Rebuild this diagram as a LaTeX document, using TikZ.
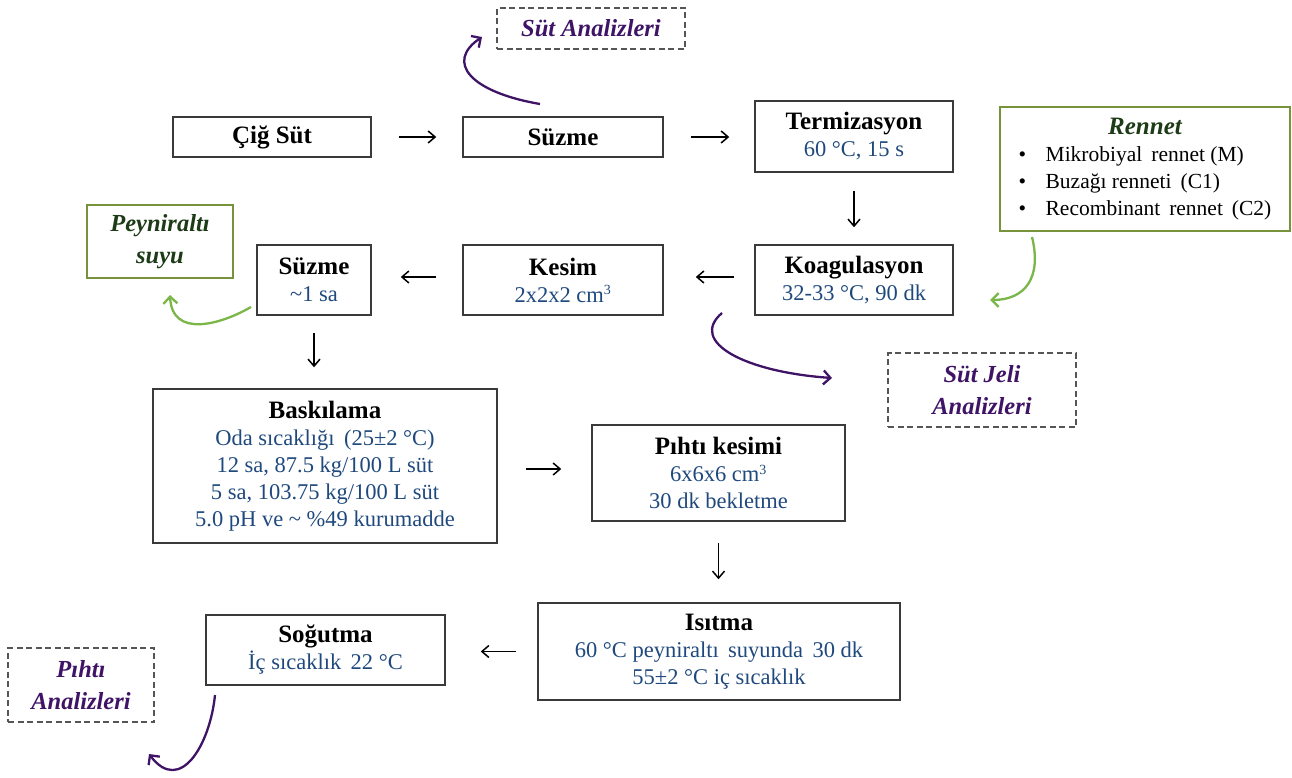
\documentclass[tikz,border=0pt]{standalone}
\usepackage{fontspec}
\setmainfont{Liberation Serif}
\usetikzlibrary{arrows.meta}
\definecolor{tblue}{HTML}{1F497D}
\definecolor{tpurp}{HTML}{3F1466}
\definecolor{gborder}{HTML}{77933C}
\definecolor{garrow}{HTML}{7AB648}
\definecolor{tgreen}{HTML}{1D3B16}
\definecolor{bgray}{HTML}{3A3A3A}
\definecolor{dgray}{HTML}{555555}
\newcommand\ttl[1]{{\fontsize{25}{28}\selectfont\bfseries #1}}
\newcommand\dtl{\color{tblue}}
\begin{document}
\begin{tikzpicture}[x=1pt,y=-1pt,
  box/.style={draw=bgray,line width=1.5pt,rectangle,inner sep=0pt,align=center,
    font=\fontsize{22.5}{27}\selectfont},
  gbox/.style={draw=gborder,line width=1.4pt,rectangle,inner sep=0pt,align=center,
    font=\fontsize{24.5}{32}\selectfont\bfseries\itshape,text=tgreen},
  dbox/.style={draw=dgray,line width=1.4pt,dash pattern=on 6pt off 3.5pt,rectangle,inner sep=0pt,
    align=center,font=\fontsize{24.5}{32}\selectfont\bfseries\itshape,text=tpurp},
  arr/.style={line width=1.5pt,-{Straight Barb[length=7pt,width=12pt]}},
  parr/.style={draw=tpurp,line width=2.3pt,-{Straight Barb[length=7pt,width=14pt]}},
  garr/.style={draw=garrow,line width=2.3pt,-{Straight Barb[length=7pt,width=14pt]}}
]
\useasboundingbox (0,0) rectangle (1292,778);

% main process boxes
\node[box,minimum width=198pt,minimum height=40pt] (cig) at (272,137) {\ttl{Çiğ Süt}};
\node[box,minimum width=200pt,minimum height=40pt] (suz1) at (563,137) {\ttl{Süzme}};
\node[box,minimum width=198pt,minimum height=71pt] (term) at (854,136.5) {\ttl{Termizasyon}\\ {\dtl 60 °C, 15 s}};
\node[box,minimum width=198pt,minimum height=70pt] (koag) at (854,280) {\ttl{Koagulasyon}\\ {\dtl 32-33 °C, 90 dk}};
\node[box,minimum width=200pt,minimum height=70pt] (kesim) at (563,280) {\ttl{Kesim}\\ {\dtl 2x2x2 cm\textsuperscript{\fontsize{14}{14}\selectfont 3}}};
\node[box,minimum width=114pt,minimum height=70pt] (suz2) at (314,280) {\ttl{Süzme}\\ {\dtl \textasciitilde1 sa}};
\node[box,minimum width=344pt,minimum height=154pt] (bask) at (325,466) {\ttl{Baskılama}\\ {\dtl Oda sıcaklığı \,(25±2 °C)}\\ {\dtl 12 sa, 87.5 kg/100 L süt}\\ {\dtl 5 sa, 103.75 kg/100 L süt}\\ {\dtl 5.0 pH ve \textasciitilde{} \%49 kurumadde}};
\node[box,minimum width=253pt,minimum height=96pt] (pihti) at (718.5,473) {\ttl{Pıhtı kesimi}\\ {\dtl 6x6x6 cm\textsuperscript{\fontsize{14}{14}\selectfont 3}}\\ {\dtl 30 dk bekletme}};
\node[box,minimum width=362pt,minimum height=97pt] (isit) at (719,651.5) {\ttl{Isıtma}\\ {\dtl 60 °C peyniraltı \,suyunda \,30 dk}\\ {\dtl 55±2 °C iç sıcaklık}};
\node[box,minimum width=239pt,minimum height=70pt] (sog) at (325.5,650) {\ttl{Soğutma}\\ {\dtl İç sıcaklık \,22 °C}};

% side boxes
\node[draw=gborder,line width=1.4pt,rectangle,inner sep=0pt,minimum width=290pt,minimum height=124pt,
  font=\fontsize{21.5}{28}\selectfont] (rennet) at (1145,169) {%
  \begin{tabular}{@{}p{27pt}@{}l@{}}
  \multicolumn{2}{@{}c@{}}{\fontsize{25}{28}\selectfont\color{tgreen}\bfseries\itshape Rennet\hspace{-10pt}}\\[-1pt]
  \textbullet & Mikrobiyal \,rennet (M)\\[-1pt]
  \textbullet & Buzağı renneti \,(C1)\\[-1pt]
  \textbullet & Recombinant \,rennet \,(C2)
  \end{tabular}\hspace{10pt}};
\node[gbox,minimum width=146pt,minimum height=73pt] (peyn) at (160,241.5) {Peyniraltı\\suyu};
\node[dbox,minimum width=188pt,minimum height=41pt] (sutA) at (591,28.5) {Süt Analizleri};
\node[dbox,minimum width=188pt,minimum height=74pt] (jeli) at (982,390) {Süt Jeli\\Analizleri};
\node[dbox,minimum width=146pt,minimum height=74pt] (pihtiA) at (81,685) {Pıhtı\\Analizleri};

% straight flow arrows
\draw[arr,shorten <=27pt,shorten >=26pt] (cig.east) -- (cig.east -| suz1.west);
\draw[arr,shorten <=27pt,shorten >=25pt] (suz1.east) -- (suz1.east -| term.west);
\draw[arr,shorten <=18pt,shorten >=17pt] (term.south) -- (term.south |- koag.north);
\draw[arr,shorten <=20pt,shorten >=32pt] ([yshift=3pt]koag.west) -- ([yshift=3pt]koag.west -| kesim.east);
\draw[arr,shorten <=26pt,shorten >=29pt] ([yshift=3pt]kesim.west) -- ([yshift=3pt]kesim.west -| suz2.east);
\draw[arr,shorten <=17pt,shorten >=21pt] (suz2.south) -- (suz2.south |- bask.north);
\draw[arr,shorten <=28pt,shorten >=30pt] ([yshift=-3pt]bask.east) -- ([yshift=-3pt]bask.east -| pihti.west);
\draw[arr,shorten <=21pt,shorten >=23pt] (pihti.south) -- (pihti.south |- isit.north);
\draw[arr,shorten <=21pt,shorten >=35pt] (isit.west) -- (isit.west -| sog.east);

% curved side arrows
\coordinate (c1s) at (540,104);
\coordinate (c1e) at (482,37);
\draw[parr] (c1s) .. controls (470,92) and (445,62) .. (c1e);
\coordinate (c2s) at (1032,237);
\coordinate (c2e) at (990,300);
\draw[garr] (c2s) .. controls (1042,278) and (1025,300) .. (c2e);
\coordinate (c3s) at (722,313);
\coordinate (c3e) at (832,378);
\draw[parr] (c3s) .. controls (688,342) and (745,372) .. (c3e);
\coordinate (c4s) at (251,307);
\coordinate (c4e) at (170,295);
\draw[garr] (c4s) .. controls (220,325) and (172,338) .. (c4e);
\coordinate (c5s) at (215,695);
\coordinate (c5e) at (149,754);
\draw[parr] (c5s) .. controls (210,745) and (180,795) .. (c5e);
\end{tikzpicture}
\end{document}
